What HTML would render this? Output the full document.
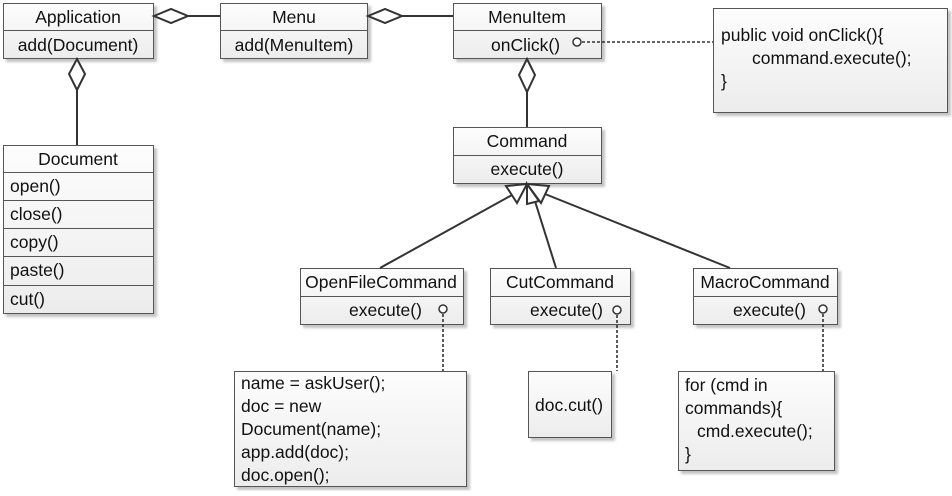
<!DOCTYPE html>
<html><head><meta charset="utf-8"><style>
body{margin:0;background:#fff;}
svg text{font-family:"Liberation Sans",sans-serif;font-size:17.5px;fill:#111;}
</style></head><body>
<svg width="952" height="491" viewBox="0 0 952 491" xmlns="http://www.w3.org/2000/svg">
<defs>
<linearGradient id="g" x1="0" y1="0" x2="0" y2="1"><stop offset="0" stop-color="#fdfdfd"/><stop offset="1" stop-color="#ececec"/></linearGradient>
<filter id="s" x="-10%" y="-10%" width="130%" height="130%"><feDropShadow dx="3" dy="3" stdDeviation="1.2" flood-color="#999" flood-opacity="0.6"/></filter>
</defs>
<g stroke="#555" stroke-width="1" fill="url(#g)" filter="url(#s)">
<rect x="3.5" y="3.5" width="150" height="55"/>
<rect x="220.5" y="3.5" width="147" height="55"/>
<rect x="453.5" y="3.5" width="148" height="55"/>
<rect x="713.5" y="8.5" width="234" height="104"/>
<rect x="453.5" y="127.5" width="148" height="56"/>
<rect x="3.5" y="145.5" width="150" height="168"/>
<rect x="300.5" y="268.5" width="163" height="56"/>
<rect x="490.5" y="268.5" width="140" height="56"/>
<rect x="693.5" y="268.5" width="144" height="56"/>
<rect x="234.5" y="371.5" width="232" height="115"/>
<rect x="528.5" y="371.5" width="83" height="66"/>
<rect x="678.5" y="371.5" width="156" height="99"/>
</g>
<g stroke="#555" stroke-width="1">
<line x1="3" y1="30.5" x2="154" y2="30.5"/>
<line x1="220" y1="30.5" x2="368" y2="30.5"/>
<line x1="453" y1="30.5" x2="602" y2="30.5"/>
<line x1="453" y1="155.5" x2="602" y2="155.5"/>
<line x1="3" y1="172.5" x2="154" y2="172.5"/>
<line x1="3" y1="200.5" x2="154" y2="200.5"/>
<line x1="3" y1="228.5" x2="154" y2="228.5"/>
<line x1="3" y1="256.5" x2="154" y2="256.5"/>
<line x1="3" y1="285.5" x2="154" y2="285.5"/>
<line x1="300" y1="296.5" x2="464" y2="296.5"/>
<line x1="490" y1="296.5" x2="631" y2="296.5"/>
<line x1="693" y1="296.5" x2="838" y2="296.5"/>
</g>
<g stroke="#333" stroke-width="2" fill="#fff">
<line x1="188" y1="16" x2="220" y2="16"/>
<polygon points="154,16 171,9 188,16 171,23"/>
<line x1="402" y1="16" x2="453" y2="16"/>
<polygon points="368,16 385,9 402,16 385,23"/>
<line x1="77" y1="90" x2="77" y2="145"/>
<polygon points="77,59 85,74 77,90 69,74"/>
<line x1="527" y1="92" x2="527" y2="127"/>
<polygon points="527,59 535,75 527,92 519,75"/>
<line x1="380" y1="268" x2="512" y2="195"/>
<line x1="556" y1="268" x2="534" y2="198"/>
<line x1="730" y1="268" x2="545" y2="194"/>
<polygon points="527,184 517,203 506,186"/>
<polygon points="527,184 539,201 527,204"/>
<polygon points="527,184 549,186 541,203"/>
</g>
<g stroke="#333" stroke-width="1.6" stroke-dasharray="3,2" fill="none">
<line x1="582" y1="42" x2="713" y2="42"/>
<line x1="443" y1="314" x2="443" y2="371"/>
<line x1="617" y1="315" x2="617" y2="371"/>
<line x1="823" y1="314" x2="823" y2="371"/>
</g>
<g stroke="#333" stroke-width="1.5" fill="#fff">
<circle cx="577" cy="42" r="4"/>
<circle cx="443" cy="309" r="4"/>
<circle cx="617" cy="310" r="4"/>
<circle cx="823" cy="309" r="4"/>
</g>
<g text-anchor="middle">
<text x="78" y="23">Application</text>
<text x="78" y="51">add(Document)</text>
<text x="294" y="23">Menu</text>
<text x="294" y="51">add(MenuItem)</text>
<text x="527" y="23">MenuItem</text>
<text x="527" y="147">Command</text>
<text x="527" y="175">execute()</text>
<text x="78" y="165">Document</text>
<text x="381" y="288">OpenFileCommand</text>
<text x="560" y="288">CutCommand</text>
<text x="765" y="288">MacroCommand</text>
</g>
<text x="491" y="51">onClick()</text>
<text x="349" y="316">execute()</text>
<text x="530" y="316">execute()</text>
<text x="733" y="316">execute()</text>
<text x="10" y="192">open()</text>
<text x="10" y="220">close()</text>
<text x="10" y="248">copy()</text>
<text x="10" y="276">paste()</text>
<text x="10" y="305">cut()</text>
<text x="721" y="41">public void onClick(){</text>
<text x="752" y="64">command.execute();</text>
<text x="721" y="87">}</text>
<text x="241" y="389">name = askUser();</text>
<text x="241" y="412">doc = new</text>
<text x="241" y="435">Document(name);</text>
<text x="241" y="458">app.add(doc);</text>
<text x="241" y="481">doc.open();</text>
<text x="535" y="411">doc.cut()</text>
<text x="685" y="391">for (cmd in</text>
<text x="685" y="414">commands){</text>
<text x="697" y="437">cmd.execute();</text>
<text x="685" y="460">}</text>
</svg>
</body></html>
